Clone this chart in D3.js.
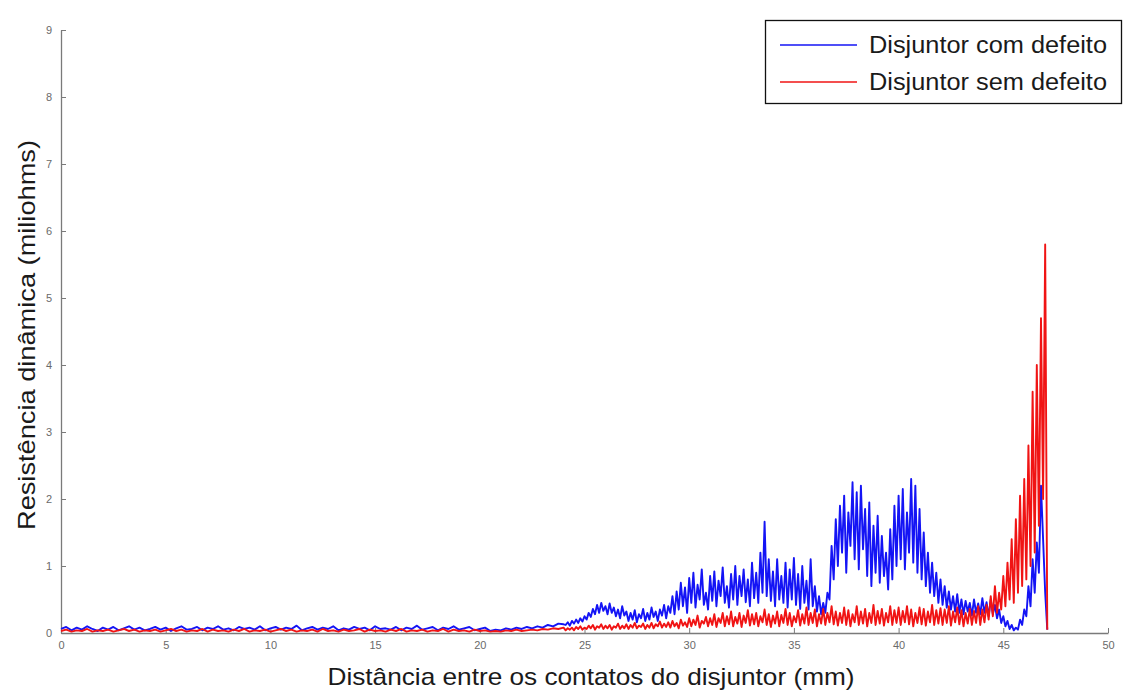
<!DOCTYPE html>
<html>
<head>
<meta charset="utf-8">
<script src="https://cdn.jsdelivr.net/npm/d3@7"></script>
<style>
  html, body { margin: 0; padding: 0; background: #fff; }
  svg { display: block; }
</style>
</head>
<body>
<svg id="chart" width="1125" height="691"></svg>
<script>
// ---------------- DATA ----------------
const xTicks = [0, 5, 10, 15, 20, 25, 30, 35, 40, 45, 50];
const yTicks = [0, 1, 2, 3, 4, 5, 6, 7, 8, 9];
const seriesNames = ["Disjuntor com defeito", "Disjuntor sem defeito"];
const xLabel = "Distância entre os contatos do disjuntor (mm)";
const yLabel = "Resistência dinâmica (miliohms)";

// sampling grid: flat part 0–24 mm every 0.25 mm, active part from 24.1 mm every 0.1 mm
const flatStart = 0, flatStep = 0.25;
const activeStart = 24.1, activeStep = 0.1;

// Blue series (com defeito), 0–24 mm
const blueFlat = [
  0.06,0.09,0.04,0.08,0.05,0.10,0.06,0.03,0.08,0.05,0.09,0.04,0.07,0.10,0.05,0.08,0.04,0.06,0.09,0.05,
  0.08,0.03,0.07,0.10,0.05,0.06,0.09,0.04,0.08,0.06,0.10,0.05,0.07,0.04,0.09,0.06,0.08,0.05,0.10,0.04,
  0.07,0.09,0.05,0.08,0.06,0.11,0.04,0.07,0.09,0.05,0.08,0.06,0.10,0.04,0.07,0.05,0.09,0.06,0.08,0.04,
  0.10,0.06,0.07,0.05,0.09,0.04,0.08,0.06,0.11,0.05,0.07,0.09,0.04,0.08,0.06,0.10,0.05,0.07,0.09,0.04,
  0.06,0.08,0.03,0.05,0.04,0.07,0.05,0.08,0.06,0.09,0.07,0.10,0.08,0.12,0.10,0.14,0.13
];
// Blue series, 24.1–47.1 mm
const blueActive = [
  0.12,0.16,0.11,0.18,0.14,0.20,0.15,0.22,0.17,0.25,
  0.20,0.30,0.24,0.36,0.28,0.42,0.30,0.45,0.33,0.40,
  0.28,0.44,0.30,0.38,0.25,0.35,0.22,0.40,0.26,0.32,
  0.18,0.30,0.20,0.34,0.16,0.28,0.22,0.36,0.18,0.30,
  0.20,0.38,0.24,0.32,0.18,0.35,0.26,0.42,0.22,0.40,
  0.30,0.55,0.28,0.62,0.35,0.75,0.40,0.68,0.30,0.82,
  0.45,0.90,0.38,0.72,0.50,0.95,0.42,0.60,0.35,0.85,
  0.48,0.92,0.40,0.78,0.55,0.98,0.45,0.70,0.38,0.88,
  0.50,1.00,0.42,0.85,0.55,0.95,0.46,0.80,0.40,1.05,
  0.52,0.90,0.45,1.20,0.60,1.66,0.55,1.10,0.48,0.92,
  0.40,1.10,0.50,0.85,0.45,1.05,0.38,0.95,0.50,1.12,
  0.42,0.88,0.36,1.00,0.45,0.78,0.35,1.10,0.40,0.70,
  0.32,0.55,0.28,0.45,0.30,0.60,0.50,1.30,0.80,1.70,
  1.00,1.90,1.20,2.05,0.90,1.80,1.30,2.25,1.10,2.10,
  0.95,2.20,1.25,1.85,0.85,1.95,0.70,1.60,0.90,1.75,
  0.75,1.45,0.85,1.20,0.65,1.55,0.80,1.90,1.00,2.05,
  1.10,2.15,0.95,1.80,1.20,2.30,1.05,2.20,0.90,1.85,
  0.80,1.50,0.70,1.20,0.60,1.05,0.55,0.90,0.45,0.80,
  0.42,0.70,0.38,0.62,0.35,0.55,0.32,0.58,0.30,0.50,
  0.28,0.48,0.32,0.45,0.26,0.50,0.30,0.44,0.28,0.52,
  0.30,0.46,0.25,0.50,0.28,0.42,0.22,0.35,0.15,0.25,
  0.10,0.18,0.06,0.12,0.04,0.08,0.05,0.20,0.12,0.35,
  0.25,0.70,0.40,1.10,0.60,1.35,0.90,2.20,1.40,0.60,
  0.05
];

// Red series (sem defeito), 0–24 mm
const redFlat = [
  0.03,0.05,0.02,0.04,0.03,0.06,0.02,0.04,0.03,0.05,0.02,0.04,0.06,0.03,0.05,0.02,0.04,0.03,0.05,0.02,
  0.04,0.06,0.03,0.05,0.02,0.04,0.03,0.06,0.02,0.05,0.03,0.04,0.02,0.05,0.03,0.06,0.02,0.04,0.03,0.05,
  0.02,0.04,0.06,0.03,0.05,0.02,0.04,0.03,0.05,0.02,0.06,0.03,0.04,0.02,0.05,0.03,0.04,0.06,0.02,0.05,
  0.03,0.04,0.02,0.05,0.03,0.06,0.02,0.04,0.03,0.05,0.02,0.04,0.03,0.06,0.02,0.05,0.03,0.04,0.02,0.05,
  0.03,0.04,0.02,0.03,0.02,0.04,0.03,0.05,0.03,0.04,0.05,0.04,0.06,0.05,0.07,0.06,0.08
];
// Red series, 24.1–47.1 mm
const redActive = [
  0.04,0.07,0.05,0.08,0.04,0.09,0.06,0.10,0.05,0.08,
  0.06,0.11,0.07,0.12,0.05,0.10,0.08,0.13,0.06,0.11,
  0.07,0.12,0.05,0.10,0.08,0.14,0.06,0.11,0.07,0.13,
  0.06,0.12,0.08,0.15,0.07,0.11,0.09,0.14,0.06,0.12,
  0.08,0.15,0.07,0.13,0.10,0.17,0.08,0.14,0.09,0.16,
  0.08,0.18,0.10,0.15,0.07,0.20,0.11,0.16,0.09,0.22,
  0.10,0.20,0.12,0.26,0.08,0.18,0.14,0.24,0.10,0.22,
  0.12,0.28,0.09,0.22,0.15,0.30,0.10,0.25,0.13,0.32,
  0.10,0.24,0.14,0.30,0.09,0.26,0.15,0.34,0.11,0.28,
  0.13,0.30,0.10,0.25,0.16,0.35,0.12,0.28,0.09,0.26,
  0.14,0.32,0.10,0.27,0.15,0.36,0.12,0.30,0.10,0.25,
  0.16,0.34,0.11,0.28,0.14,0.38,0.12,0.30,0.15,0.35,
  0.10,0.28,0.14,0.36,0.12,0.30,0.16,0.40,0.13,0.32,
  0.11,0.30,0.15,0.38,0.12,0.34,0.10,0.28,0.16,0.40,
  0.12,0.32,0.14,0.36,0.10,0.30,0.15,0.42,0.12,0.33,
  0.14,0.36,0.11,0.30,0.16,0.40,0.12,0.34,0.15,0.38,
  0.12,0.33,0.16,0.40,0.13,0.35,0.10,0.30,0.15,0.38,
  0.13,0.36,0.11,0.32,0.16,0.42,0.12,0.34,0.14,0.37,
  0.12,0.35,0.15,0.40,0.11,0.32,0.16,0.38,0.13,0.34,
  0.10,0.30,0.14,0.36,0.12,0.33,0.15,0.40,0.12,0.35,
  0.16,0.42,0.20,0.55,0.25,0.70,0.30,0.60,0.35,0.85,
  0.40,1.05,0.50,1.40,0.45,1.70,0.60,2.05,0.70,2.30,
  0.80,2.80,1.00,3.60,1.20,4.00,1.60,4.70,2.00,5.80,
  0.05
];

const colors = ["#1414f5", "#f01414"];

// ---------------- BUILD ----------------
function buildSeries(flat, active) {
  const pts = flat.map((v, i) => ({ x: flatStart + i * flatStep, y: v }));
  active.forEach((v, i) => pts.push({ x: +(activeStart + i * activeStep).toFixed(2), y: v }));
  return pts;
}
const series = [
  { name: seriesNames[0], color: colors[0], values: buildSeries(blueFlat, blueActive) },
  { name: seriesNames[1], color: colors[1], values: buildSeries(redFlat, redActive) }
];

const svg = d3.select("#chart");
const W = 1125, H = 691;
const m = { left: 61, right: W - 1108, top: 30, bottom: H - 633 };

const x = d3.scaleLinear().domain([0, 50]).range([m.left, W - m.right]);
const y = d3.scaleLinear().domain([0, 9]).range([H - m.bottom, m.top]);

const axisColor = "#7a7a7a";
const tickTextColor = "#6a6a6a";
const font = "'Liberation Sans', Arial, sans-serif";

// X axis (ticks pointing inward = up)
const gx = svg.append("g")
  .attr("transform", `translate(0,${y(0)})`)
  .call(d3.axisBottom(x).tickValues(xTicks).tickSizeInner(-5).tickSizeOuter(0).tickPadding(8));
gx.select(".domain").attr("stroke", axisColor).attr("stroke-width", 1.3);
gx.selectAll(".tick line").attr("stroke", axisColor);
gx.selectAll(".tick text").attr("fill", tickTextColor)
  .style("font-family", font).style("font-size", "11px");

// Y axis (ticks inward = right)
const gy = svg.append("g")
  .attr("transform", `translate(${x(0)},0)`)
  .call(d3.axisLeft(y).tickValues(yTicks).tickSizeInner(-5).tickSizeOuter(0).tickPadding(9));
gy.select(".domain").attr("stroke", axisColor).attr("stroke-width", 1.3);
gy.selectAll(".tick line").attr("stroke", axisColor);
gy.selectAll(".tick text").attr("fill", tickTextColor)
  .style("font-family", font).style("font-size", "11px");

// Lines
const line = d3.line().x(d => x(d.x)).y(d => y(d.y));
svg.append("g").selectAll("path.series")
  .data(series)
  .join("path")
  .attr("class", "series")
  .attr("fill", "none")
  .attr("stroke", d => d.color)
  .attr("stroke-width", 1.9)
  .attr("stroke-linejoin", "round")
  .attr("d", d => line(d.values));

// Axis titles
svg.append("text")
  .attr("x", 591).attr("y", 685)
  .attr("text-anchor", "middle")
  .attr("fill", "#1a1a1a")
  .style("font-family", font)
  .style("font-size", "24px")
  .attr("textLength", 527).attr("lengthAdjust", "spacingAndGlyphs")
  .text(xLabel);

svg.append("text")
  .attr("transform", "translate(35,335) rotate(-90)")
  .attr("text-anchor", "middle")
  .attr("fill", "#1a1a1a")
  .style("font-family", font)
  .style("font-size", "24px")
  .attr("textLength", 390).attr("lengthAdjust", "spacingAndGlyphs")
  .text(yLabel);

// Legend
const lg = svg.append("g");
lg.append("rect")
  .attr("x", 765.5).attr("y", 20.5).attr("width", 356).attr("height", 83)
  .attr("fill", "#fff").attr("stroke", "#111").attr("stroke-width", 1.3);
series.forEach((s, i) => {
  const cy = 45 + i * 37;
  lg.append("line")
    .attr("x1", 780).attr("x2", 857).attr("y1", cy).attr("y2", cy)
    .attr("stroke", s.color).attr("stroke-width", 1.6);
  lg.append("text")
    .attr("x", 869).attr("y", cy + 8)
    .attr("fill", "#1a1a1a")
    .style("font-family", font)
    .style("font-size", "23px")
    .attr("textLength", 238).attr("lengthAdjust", "spacingAndGlyphs")
    .text(s.name);
});
</script>
</body>
</html>
